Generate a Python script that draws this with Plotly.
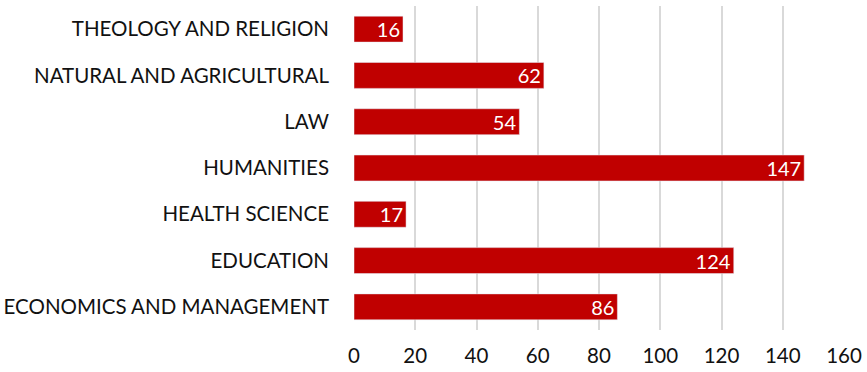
import plotly.graph_objects as go

categories = ["ECONOMICS AND MANAGEMENT", "EDUCATION", "HEALTH SCIENCE", "HUMANITIES",
              "LAW", "NATURAL AND AGRICULTURAL", "THEOLOGY AND RELIGION"]
values = [86, 124, 17, 147, 54, 62, 16]
tick_vals = [0, 20, 40, 60, 80, 100, 120, 140, 160]

font_family = "Lato, 'Open Sans', sans-serif"

fig = go.Figure(go.Bar(
    y=categories, x=values, orientation="h",
    marker=dict(color="#C00000"),
    text=[str(v) for v in values], textposition="inside", textangle=0,
    insidetextanchor="end", cliponaxis=False,
    textfont=dict(color="white", size=20, family=font_family),
))
fig.update_layout(
    width=867, height=372,
    margin=dict(l=354, r=23, t=6, b=42),
    paper_bgcolor="white", plot_bgcolor="white",
    bargap=0.44, showlegend=False,
    font=dict(family=font_family, size=20, color="#111111"),
    uniformtext=dict(minsize=20, mode="show"),
)
fig.update_xaxes(range=[0, 160], tickvals=tick_vals, showgrid=True, gridcolor="#d9d9d9",
                 gridwidth=2, zeroline=False, showline=False, ticks="", automargin=False,
                 tickfont=dict(size=20.5), ticklabelstandoff=11)
fig.update_yaxes(categoryorder="array", categoryarray=categories, range=[-0.5, 6.5],
                 showgrid=False, zeroline=False, showline=False, ticks="", automargin=False,
                 ticklabelstandoff=24, tickfont=dict(size=20.5))
fig.write_html("out.html")
